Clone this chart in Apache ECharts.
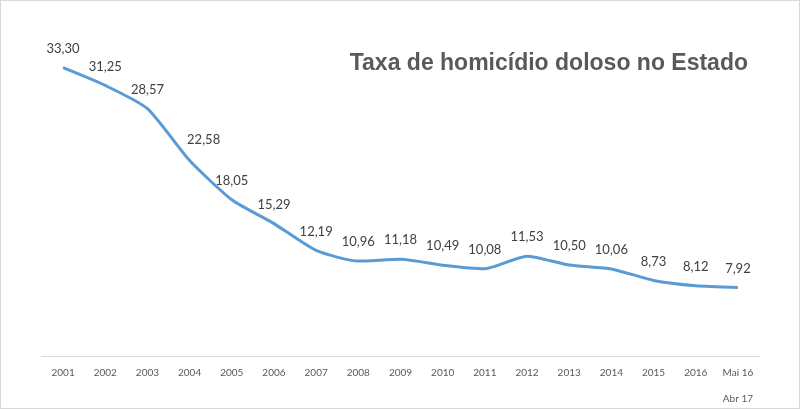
<!DOCTYPE html>
<html>
<head>
<meta charset="utf-8">
<script src="https://cdn.jsdelivr.net/npm/echarts@6/dist/echarts.min.js"></script>
<style>
html,body{margin:0;padding:0;background:#fff;}
#wrap{position:absolute;left:0;top:0;width:798px;height:407px;border:1px solid #d9d9d9;}
#chart{position:absolute;left:-1px;top:-1px;width:800px;height:409px;}
</style>
</head>
<body>
<div id="wrap"><div id="chart"></div></div>
<script>
const categories = ['2001','2002','2003','2004','2005','2006','2007','2008','2009','2010','2011','2012','2013','2014','2015','2016','Mai 16\n\nAbr 17'];
const values = [33.30,31.25,28.57,22.58,18.05,15.29,12.19,10.96,11.18,10.49,10.08,11.53,10.50,10.06,8.73,8.12,7.92];
const titleText = 'Taxa de homicídio doloso no Estado';

const seriesData = values.map((v, i) => i === 3 ? {value: v, label: {offset: [14, -2]}} : v);

const chart = echarts.init(document.getElementById('chart'));
chart.setOption({
  animation: false,
  backgroundColor: 'transparent',
  title: {
    text: titleText,
    right: 47,
    top: 47,
    textStyle: {fontFamily: 'Liberation Sans', fontWeight: 'bold', fontSize: 23, color: '#595959'}
  },
  grid: {left: 42, right: 41, top: 53, bottom: 53},
  xAxis: {
    type: 'category',
    data: categories,
    boundaryGap: true,
    axisLine: {lineStyle: {color: '#d9d9d9', width: 1}},
    axisTick: {show: false},
    axisLabel: {fontFamily: 'Lato', fontSize: 10, color: '#595959', margin: 10, lineHeight: 13, interval: 0}
  },
  yAxis: {
    type: 'value',
    min: 0,
    max: 35,
    show: false,
    splitLine: {show: false}
  },
  series: [{
    type: 'line',
    data: seriesData,
    symbol: 'circle',
    symbolSize: 1,
    showSymbol: true,
    itemStyle: {color: '#5b9bd5', opacity: 0},
    smooth: 0.2,
    lineStyle: {color: '#5b9bd5', width: 3, opacity: 1},
    label: {
      show: true,
      position: 'top',
      distance: 12,
      fontFamily: 'Lato',
      fontSize: 13,
      color: '#404040',
      opacity: 1,
      formatter: p => p.value.toFixed(2).replace('.', ',')
    }
  }]
});
</script>
</body>
</html>
